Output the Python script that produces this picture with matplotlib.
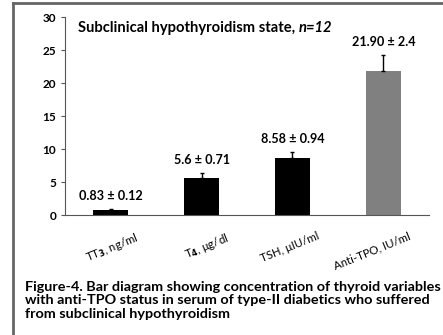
import matplotlib
matplotlib.use("Agg")
import matplotlib.pyplot as plt
import matplotlib.transforms as mtransforms
from matplotlib.lines import Line2D

plt.rcParams.update({
    'font.family': ['Lato', 'DejaVu Sans'],
    'font.weight': 'bold',
    'mathtext.default': 'bf',
})

# Thyroid variables measured in subclinical hypothyroid diabetics
categories = [r"TT$_3$, ng/ml", r"T$_4$, μg/dl", "TSH, μIU/ml", "Anti-TPO, IU/ml"]
means = [0.83, 5.6, 8.58, 21.90]
sems = [0.12, 0.71, 0.94, 2.4]
value_labels = ["0.83 ± 0.12", "5.6 ± 0.71", "8.58 ± 0.94", "21.90 ± 2.4"]
bar_colors = ["black", "black", "black", "#808080"]

fig = plt.figure(figsize=(4.43, 3.35), dpi=100)
ax = fig.add_axes([0.147, 0.358, 0.821, 0.591])

x = range(len(categories))
ax.bar(x, means, width=0.39, color=bar_colors,
       yerr=[[0] * len(sems), sems], error_kw=dict(ecolor='black', elinewidth=1, capsize=1.5))

# value annotations sit just above each error bar
for xi, m, s, lab in zip(x, means, sems, value_labels):
    ax.annotate(lab, (xi, m + s), xytext=(0, 5), textcoords='offset points',
                ha='center', va='bottom', fontsize=9.1, fontweight='bold')

ax.set_xlim(-0.5, len(categories) - 0.5)
ax.set_ylim(0, 30)
ax.set_yticks(range(0, 31, 5))
ax.tick_params(axis='y', labelsize=8.5, length=3, color='#555555')
ax.tick_params(axis='x', length=0, labelsize=8.2, pad=11)
ax.set_xticks(list(x))
ax.set_xticklabels(categories, rotation=22, ha='right', rotation_mode='anchor')
shift = mtransforms.ScaledTranslation(0.24, 0, fig.dpi_scale_trans)
for lab in ax.get_xticklabels():
    lab.set_fontweight('normal')
    lab.set_transform(lab.get_transform() + shift)
for side in ('top', 'right'):
    ax.spines[side].set_visible(False)
for side in ('left', 'bottom'):
    ax.spines[side].set_color('#555555')

title = ax.text(0.035, 0.945, "Subclinical hypothyroidism state, ", transform=ax.transAxes,
                fontsize=10.6, fontweight='bold', va='center', ha='left')
ax.annotate("n=12", xy=(1, 0.5), xycoords=title, fontsize=10.6,
            fontweight='bold', fontstyle='italic', va='center', ha='left')

caption = ("Figure-4. Bar diagram showing concentration of thyroid variables\n"
           "with anti-TPO status in serum of type-II diabetics who suffered\n"
           "from subclinical hypothyroidism")
fig.text(0.056, 0.045, caption, fontsize=10.4, fontweight='bold', ha='left', va='bottom',
         linespacing=1.15)

# panel frame lines along the left and top edges
fig.add_artist(Line2D([0.03, 0.03], [0.0, 0.99], transform=fig.transFigure,
                      color='#666666', lw=2))
fig.add_artist(Line2D([0.03, 1.0], [0.99, 0.99], transform=fig.transFigure,
                      color='#666666', lw=2))

fig.savefig("out.png", dpi=100)
